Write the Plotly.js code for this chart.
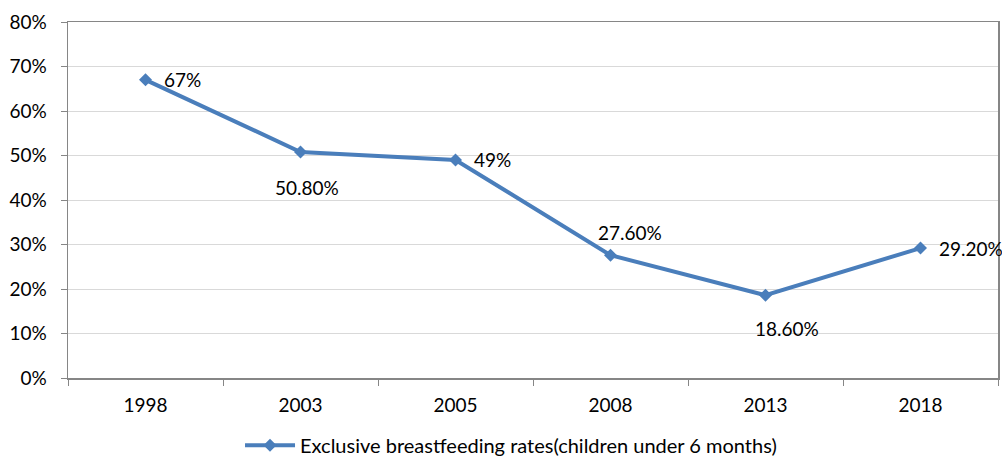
<!DOCTYPE html>
<html>
<head>
<meta charset="utf-8">
<script src="https://cdn.plot.ly/plotly-3.0.1.min.js"></script>
<style>html,body{margin:0;padding:0;background:#fff;}#chart{width:1002px;height:459px;}</style>
</head>
<body>
<div id="chart"></div>
<script>
var years = ['1998', '2003', '2005', '2008', '2013', '2018'];
var rates = [0.67, 0.508, 0.49, 0.276, 0.186, 0.292];
var labels = ['67%', '50.80%', '49%', '27.60%', '18.60%', '29.20%'];
var labelPos = ['right', 'below', 'right', 'aboveright', 'belowright', 'right'];
var seriesName = 'Exclusive breastfeeding rates(children under 6 months)';

var shifts = {
  right: {xanchor: 'left', yanchor: 'middle', xshift: 16, yshift: 0},
  below: {xanchor: 'center', yanchor: 'top', xshift: 6, yshift: -22},
  belowright: {xanchor: 'center', yanchor: 'top', xshift: 21, yshift: -20},
  aboveright: {xanchor: 'center', yanchor: 'bottom', xshift: 19, yshift: 9},
};

var annotations = years.map(function (y, i) {
  var s = shifts[labelPos[i]];
  return {
    x: i, y: rates[i], xref: 'x', yref: 'y', text: labels[i], showarrow: false,
    xanchor: s.xanchor, yanchor: s.yanchor, xshift: s.xshift, yshift: s.yshift,
    font: {family: 'Lato, Carlito, sans-serif', size: 19, color: '#000'}
  };
});

var trace = {
  x: years, y: rates, type: 'scatter', mode: 'lines+markers', name: seriesName,
  line: {color: '#4a7ebb', width: 4},
  marker: {symbol: 'diamond', size: 10, color: '#4a7ebb'}
};

var layout = {
  width: 1002, height: 459,
  margin: {l: 68, r: 4, t: 22, b: 81},
  paper_bgcolor: '#fff', plot_bgcolor: '#fff',
  font: {family: 'Lato, Carlito, sans-serif', size: 19, color: '#000'},
  showlegend: true,
  legend: {orientation: 'h', x: 0.51, xanchor: 'center', xref: 'container',
    y: 0.03, yanchor: 'middle', yref: 'container',
    font: {size: 20}, itemwidth: 50},
  xaxis: {
    type: 'category', range: [-0.5, 5.5], showgrid: false, automargin: false,
    showline: true, mirror: true, linecolor: '#868686', linewidth: 1.5,
    ticks: 'outside', tickson: 'boundaries', ticklen: 6, tickcolor: '#868686',
    ticklabelstandoff: 10, zeroline: false
  },
  yaxis: {
    range: [0, 0.8], dtick: 0.1, tickformat: '.0%', automargin: false,
    showgrid: true, gridcolor: '#d9d9d9', gridwidth: 1,
    showline: true, mirror: true, linecolor: '#868686', linewidth: 1.5,
    ticks: 'outside', ticklen: 6, tickcolor: '#868686', zeroline: false,
    ticklabelstandoff: 10
  },
  annotations: annotations
};

Plotly.newPlot('chart', [trace], layout, {displayModeBar: false, staticPlot: true});
</script>
</body>
</html>
